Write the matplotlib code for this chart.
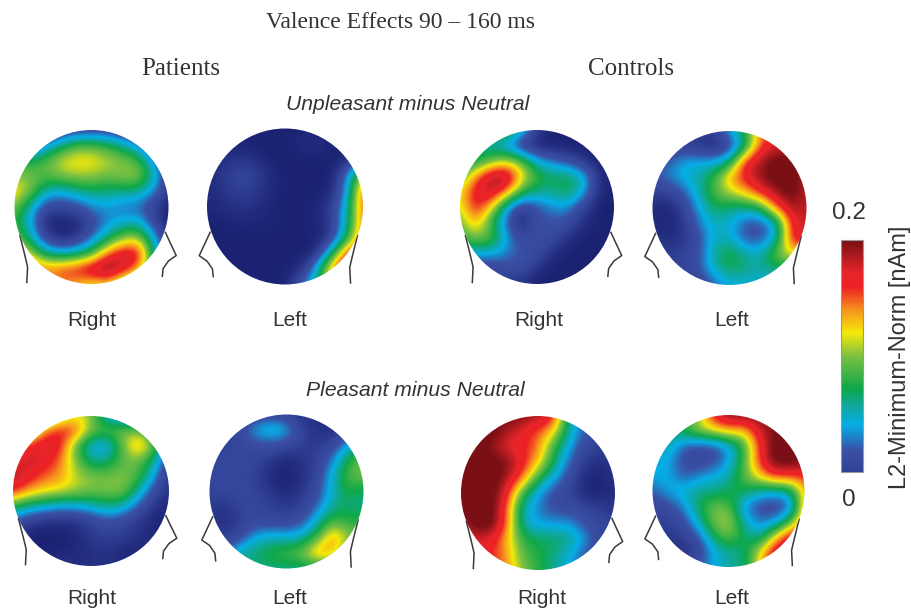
import numpy as np
import matplotlib
matplotlib.use("Agg")
import matplotlib.pyplot as plt
from matplotlib.colors import LinearSegmentedColormap
from matplotlib.patches import Ellipse, Rectangle

# activity on a 0..10 scale (10 = 0.2 nAm), -1 is the dark navy of the maps
# rows go top to bottom, columns left to right over the bounding box of a head
unpl_pat_right = [
    [-1, -1, -1, -.5, 0, 0, 0, -.5, -1, -1, -1],
    [1, .5, 1.5, 3.2, 4.5, 4.5, 4, 3, 1.5, -.5, -1],
    [4, 3.5, 4.5, 5.8, 6.3, 6.2, 5.5, 5, 4.5, 1.5, -.5],
    [5, 5, 4.5, 5, 5.3, 5.2, 4.8, 5.2, 5.2, 3, -.5],
    [6.5, 5, 2.5, 2, 2.8, 3.3, 3, 3, 3, 1.5, -.5],
    [5, 2.5, .3, .2, .5, 1.5, 1.8, 1.2, 1, 0, -1],
    [4, 2, -.8, -1, -.8, .3, 1.5, 2.2, 2.5, .3, -1],
    [5, 3, 0, -.8, -.5, 1.2, 3, 5, 5.5, 2, -.5],
    [7, 5.5, 3, 2.2, 2.8, 4, 7.5, 9, 9, 3, 0],
    [9, 8.5, 7.5, 8, 8.5, 9.7, 10.5, 9, 7, 3, 0],
    [6, 6, 6, 7, 6.5, 5.5, 6, 4, 3, 1, 0],
]
unpl_pat_left = [
    [-1, -1, -1, -1, -1, -1, -1, -1, -1, -1, -1],
    [-1, -1, -1, -1, -1, -1, -.6, -.4, -1, -1, -1],
    [-1, -.5, -.3, -.4, -1, -1, -1, -1, -1, -.8, 0],
    [-.8, -.2, .3, .2, -.6, -1, -1, -1, -1, 1.5, 6],
    [-.8, -.4, 0, -.1, -.7, -1, -1, -1, -.8, 1.8, 8],
    [-.8, -.6, -.4, -.5, -.8, -1, -1, -.8, -.1, 2.5, 8],
    [-1, -.9, -.8, -.8, -.9, -1, -1, -.9, -.2, 3, 7.5],
    [-1, -1, -1, -1, -1, -1, -1, -.9, -.3, 3.5, 8],
    [-1, -1, -1, -1, -1, -1, -1, -.9, 3, 8.5, 8],
    [-1, -1, -1, -1, -1, -1, -.8, 2, 7.5, 9.5, 9],
    [-1, -1, -1, -1, -1, -1, 1, 3, 6, 6, 6],
]
unpl_con_right = [
    [3, 3, 4, 5, 3, 0, -1, -1, -1, -1, -1],
    [3, 3, 2.5, 1.5, -.5, -1, -1, -1, -1, -1, -1],
    [3.5, 3, 4.5, 5.5, 4.5, 2, 1.2, .6, -.5, -1, -1],
    [4, 7, 9.5, 10, 6.5, 4.2, 3.5, 3.5, 2.5, -.6, -1],
    [6, 8.5, 9.5, 7.5, 4, 3, 3, 3.7, 2.3, -.7, -1],
    [5.5, 8.5, 6.5, 2, -.3, .8, 1.6, 1.8, 0, -1, -1],
    [4.5, 7, 4, 1, -1, .8, .9, .6, -.6, -1, -1],
    [4, 5, 4.8, 2, .3, .6, .5, -.5, -1, -1, -1],
    [2, 2, 2, 1.5, .9, .6, -.6, -1, -1, -1, -1],
    [0, 0, 0, .6, .6, -.5, -1, -1, -1, -1, -1],
    [0, 0, 0, -.5, -.5, -1, -1, -1, -1, -1, -1],
]
unpl_con_left = [
    [0, 0, 0, 0, 0, 2, 4, 7, 8, 8, 8],
    [0, 0, 0, -.3, -.8, 0, 3, 8, 9, 8.5, 8],
    [.5, 1, 2, 2, 2, 3, 8.5, 9.5, 10.5, 10.5, 9],
    [1, 1.5, 2.2, 2.8, 4, 7, 8.5, 9.7, 10.5, 10.5, 9],
    [0, 0, 1, 2.5, 4.5, 5.5, 6.5, 8.3, 9.5, 10.5, 9],
    [-.6, -.9, 0, 2, 3.5, 3, 2.8, 3.5, 7.5, 9.5, 9],
    [-.6, -.9, -.3, 1.3, 2.5, 2.2, .8, .6, 2, 8.5, 9],
    [-.5, -.6, -.3, .6, 2.5, 2.5, .8, .8, 2.3, 8.5, 9],
    [-.4, 0, .1, .7, 3, 4, 3, 2.5, 5, 6, 5],
    [0, 0, .2, .8, 2.5, 3.5, 3, 2.8, 3, 3, 3],
    [0, 0, 0, 0, 1, 2, 2, 2, 2, 2, 2],
]
pl_pat_right = [
    [2, 3, 3, 4, 6, 5, 2, 1, 0, 0, 0],
    [4, 4, 7, 8.5, 8, 5, 4.5, 5, 5, 3, 0],
    [6, 8, 9, 8.5, 4.5, 1.8, 1.5, 4.5, 7.5, 5, 1],
    [8, 9.5, 8.5, 7.5, 5, 2.8, 3, 4.5, 4.8, 3, 0],
    [9.5, 8.5, 7.5, 7, 5.5, 5, 4.8, 5, 4.5, 2, -.5],
    [8.5, 7, 6.3, 6, 5.5, 5, 5, 5.2, 3, .5, -.5],
    [4, 3, 2.5, 2, 2, 2.5, 3.2, 2.8, 1, -.4, -.8],
    [1, 0, -.5, -.6, -.4, 0, .8, .3, -.2, -.8, -1],
    [0, -1, -1, -1, -.9, -.1, 0, 0, -.4, -.8, -1],
    [0, -1, -1, -.9, -.7, -.6, -.4, -.8, -.9, -.7, -.6],
    [-.5, -.5, -.5, -.5, -.5, -.5, -.5, -.5, -.5, -.5, -.5],
]
pl_pat_left = [
    [0, 0, 0, -.2, 0, -.2, -.5, -.5, -.5, 0, 0],
    [0, 0, .5, 2.2, 3, 2.2, 0, -.5, -.8, 0, 1],
    [0, 0, .3, .6, .6, .4, 0, -.2, .3, 2, 3],
    [.2, .3, .3, .2, -.3, -.8, -.4, 0, 1.5, 4, 5],
    [.2, .3, .3, 0, -.8, -1, -.6, .3, 2.5, 4.5, 5],
    [.2, .3, .3, .2, -.4, -.8, -.3, .6, 2.5, 4, 3],
    [-.2, -.4, .2, .3, 0, -.2, 0, 1.2, 3, 3.2, 3],
    [-.3, -.7, 0, .3, .3, .3, .8, 2.6, 4.5, 3.8, 4],
    [.2, 0, .4, 2.2, 2.5, 2.2, 2.5, 4.2, 7.5, 5, 5],
    [0, 1, 3, 3.3, 4, 4.5, 5, 7.5, 6.5, 4, 3],
    [3, 3, 3, 3, 3, 3, 3, 3, 3, 3, 3],
]
pl_con_right = [
    [10, 10, 10, 10, 10, 9.5, 8.5, 3, 1, 0, 0],
    [10.5, 10.5, 10.5, 9.5, 8.5, 7.5, 6.5, 2.5, 1.2, .5, 0],
    [10.5, 10.5, 9.5, 8.5, 8, 7.5, 4, 2, .3, 0, 0],
    [10.5, 10.5, 10.5, 10, 8.5, 6.5, 3.5, 1.2, -.2, -.6, -.2],
    [10.5, 10.5, 10.5, 9.5, 7.5, 4, 2, .5, -.7, -1, -.4],
    [10.5, 10.5, 10.5, 8.5, 4, 1.8, .6, .2, -.7, -1, -.5],
    [10.5, 10.5, 10.5, 7.5, 2.5, 1.5, .6, .6, .3, 0, -.3],
    [9, 10.5, 10.5, 7.5, 2.5, 1.8, 1.8, 1.8, .8, .3, 0],
    [8, 9, 8.5, 6.5, 4, 3.5, 3.5, 3.2, 1.8, .5, 0],
    [8, 8, 8, 7, 4.5, 3.8, 3, 2.2, .9, .3, 0],
    [8, 8, 8, 7, 5, 4, 3, 2, 1, 0, 0],
]
pl_con_left = [
    [0, 1, 3, 5, 8.5, 10, 10, 10, 10, 10, 9],
    [2, 3, 4.2, 5.5, 6.2, 7, 6.5, 9, 10, 10, 9],
    [2.5, 3, 1, .6, .8, 1.8, 4, 8, 10.5, 10.5, 9.5],
    [2, 2, .6, .4, .5, 1.8, 4.2, 8, 10.5, 10.5, 10],
    [2, 2.2, .8, 1.5, 2, 2.7, 4.5, 6.5, 8.2, 8, 8],
    [1, 2, 2.5, 3, 3, 3.4, 3.8, 2.5, 2.3, 2.8, 7],
    [.2, .5, 1.5, 3.5, 4.8, 4.5, 1.5, .5, .3, .5, 7.5],
    [0, 0, .5, 2.5, 5, 5.8, 2.5, 1.2, 1.5, 4, 8],
    [0, -.3, 0, .8, 3.5, 4.8, 3.5, 2.5, 6, 9, 9],
    [0, -.5, -.7, 0, 2, 2.8, 3, 6, 9, 10, 9],
    [1, 1, 1, 1, 2, 3, 3, 6, 9, 9, 9],
]

# grid, centre x, centre y, radius x, radius y, label, label x, label y, view
heads = [
    (unpl_pat_right, 91.5, 207, 77, 77, "Right", 92, 320, "R"),
    (unpl_pat_left, 285, 206.5, 78, 78, "Left", 290, 320, "L"),
    (unpl_con_right, 537, 207, 77, 77, "Right", 539, 320, "R"),
    (unpl_con_left, 729.5, 208, 77, 77, "Left", 732, 320, "L"),
    (pl_pat_right, 91, 491, 78, 75, "Right", 92, 599, "R"),
    (pl_pat_left, 286.5, 491.5, 77, 77, "Left", 290, 599, "L"),
    (pl_con_right, 538, 493, 77, 77, "Right", 542, 599, "R"),
    (pl_con_left, 728.5, 491, 76, 76, "Left", 732, 599, "L"),
]

# ear outlines in head radii, for a "Right" view
ear_straight_x = [-.93, -.87, -.83, -.84]
ear_straight_y = [.37, .61, .78, .98]
ear_notch_x = [.96, 1.02, 1.10, 1.0, .93, .92]
ear_notch_y = [.33, .46, .63, .70, .80, .90]

cmap_stops = [-1, .2, .9, 2, 2.8, 3.6, 5, 6, 7, 8, 8.6, 10]
cmap_colors = ["#1b2272", "#34469c", "#3a50a5", "#06aee6", "#0ea8a0", "#0fa84a", "#7cc142",
               "#f5e90a", "#f7941d", "#ed2024", "#e8262a", "#7a1015"]
cbar_values = np.linspace(0, 10, 200)

vmin, vmax = cmap_stops[0], cmap_stops[-1]
stops = [(s - vmin) / (vmax - vmin) for s in cmap_stops]
cmap = LinearSegmentedColormap.from_list("topo", list(zip(stops, cmap_colors)))

txt = "#333333"
serif = "Liberation Serif"
sans = "Liberation Sans"

fig = plt.figure(figsize=(9.12, 6.14), dpi=100)
ax = fig.add_axes([0, 0, 1, 1])

for grid, cx, cy, rx, ry, label, lx, ly, view in heads:
    im = ax.imshow(grid, cmap=cmap, vmin=vmin, vmax=vmax, interpolation="bicubic",
                   extent=[cx - 1.1 * rx, cx + 1.1 * rx, cy + 1.1 * ry, cy - 1.1 * ry],
                   aspect="auto", zorder=2)
    clip = Ellipse((cx, cy), 2 * rx, 2 * ry, transform=ax.transData)
    im.set_clip_path(clip)
    flip = 1 if view == "R" else -1
    for ex, ey in [(ear_straight_x, ear_straight_y), (ear_notch_x, ear_notch_y)]:
        ax.plot(cx + flip * rx * np.array(ex), cy + ry * np.array(ey), color="#3a3a3a", lw=1.1, zorder=1)
    ax.text(lx, ly, label, ha="center", va="center", fontsize=15, family=sans, color=txt)

ax.imshow(cbar_values[::-1, None], cmap=cmap, vmin=vmin, vmax=vmax, aspect="auto",
          extent=[841, 863, 472, 240], zorder=2)
ax.add_patch(Rectangle((841, 240), 22, 232, fill=False, ec="#999999", lw=.8, zorder=3))

ax.text(401, 23, "Valence Effects 90 \u2013 160 ms", ha="center", va="center", fontsize=17, family=serif, color=txt)
ax.text(181, 69, "Patients", ha="center", va="center", fontsize=18, family=serif, color=txt)
ax.text(631, 69, "Controls", ha="center", va="center", fontsize=18, family=serif, color=txt)
ax.text(408, 104, "Unpleasant minus Neutral", ha="center", va="center", fontsize=15.2,
        family=sans, style="italic", color=txt)
ax.text(415, 390, "Pleasant minus Neutral", ha="center", va="center", fontsize=15.2,
        family=sans, style="italic", color=txt)
ax.text(849, 213, "0.2", ha="center", va="center", fontsize=17.5, family=sans, color=txt)
ax.text(849, 500, "0", ha="center", va="center", fontsize=17.5, family=sans, color=txt)
ax.text(900, 357, "L2-Minimum-Norm [nAm]", ha="center", va="center", rotation=90, fontsize=17,
        family=sans, color=txt)

ax.set_xlim(0, 912)
ax.set_ylim(614, 0)
ax.axis("off")
fig.savefig("out.png", dpi=100)
